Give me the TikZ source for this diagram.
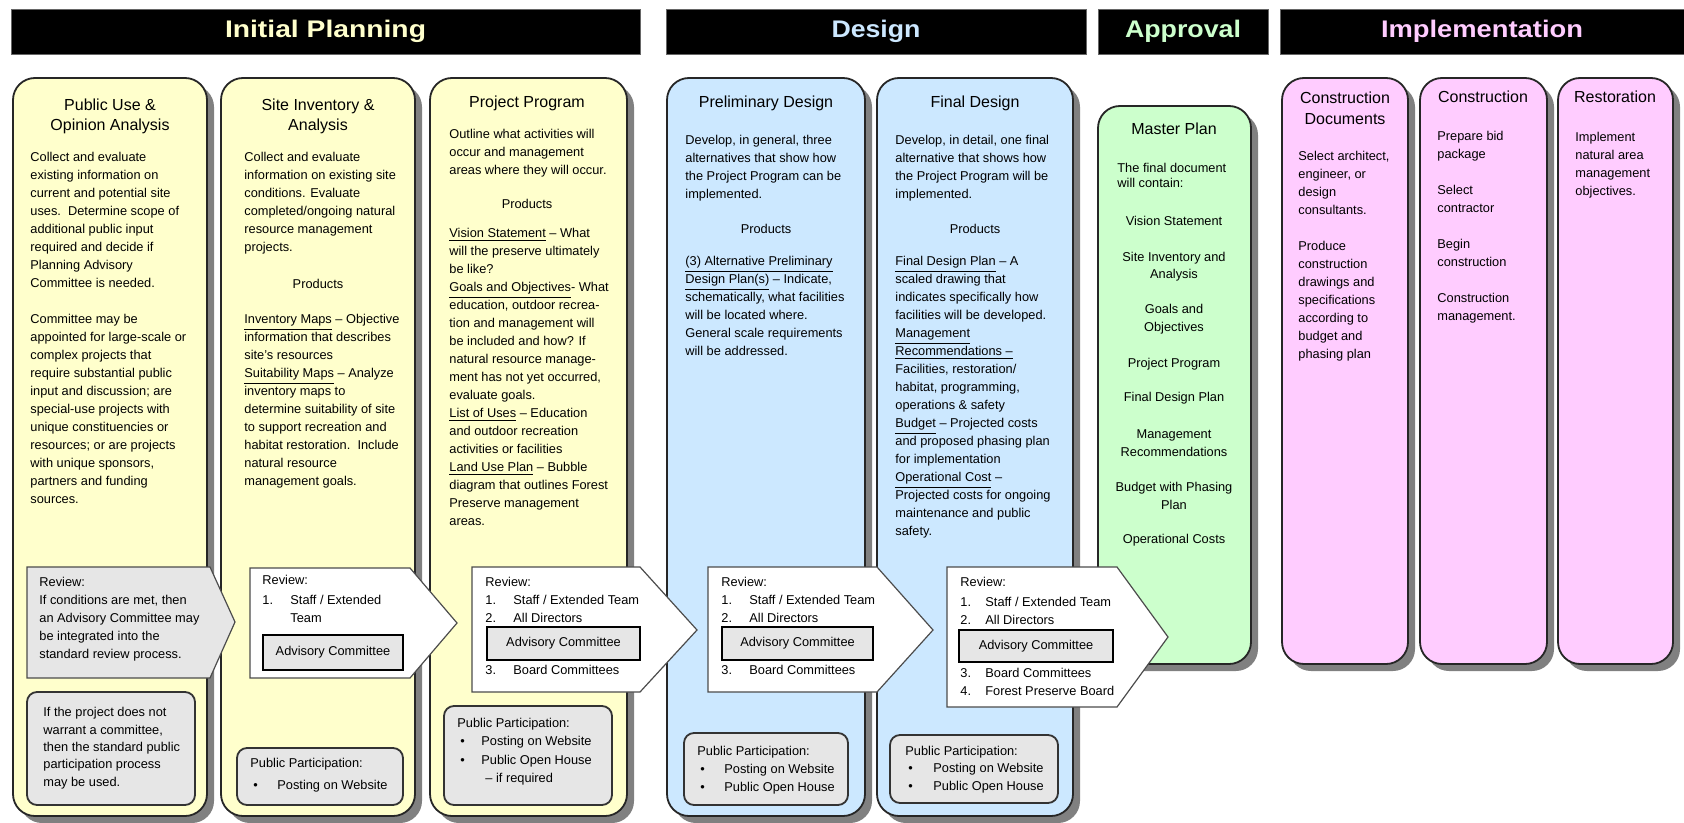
\documentclass[tikz,border=0pt]{standalone}
\usepackage{fontspec}
\usepackage{graphicx}
\setmainfont{Liberation Sans}
\definecolor{cyel}{HTML}{FFFFCC}
\definecolor{cblu}{HTML}{CCE8FF}
\definecolor{cgrn}{HTML}{CCFFCC}
\definecolor{cpnk}{HTML}{FFCCFF}
\definecolor{cshd}{HTML}{808080}
\definecolor{cbox}{HTML}{E6E6E6}
\newcommand{\bodyfs}{\fontsize{6.4}{9}\selectfont}
\newcommand{\titlefs}{\fontsize{8}{10.3}\selectfont}
\newcommand{\mycol}[5]{%
  \fill[cshd, rounded corners=11pt] (#1+7,#2+7) rectangle (#3+7,#4+7);
  \draw[colline, fill=#5] (#1,#2) rectangle (#3,#4);}
\newcommand{\revshape}[7]{%
  \draw[revline, fill=#7] (#1,#2) -- (#3,#2) -- (#4,#5) -- (#3,#6) -- (#1,#6) -- cycle;}
\tikzset{
  colline/.style={draw=black!85, line width=0.9pt, rounded corners=11pt},
  revline/.style={draw=black!70, line width=0.6pt},
  notebox/.style={draw=black!80, line width=0.9pt, fill=cbox, rounded corners=5pt},
  advbox/.style={draw=black, line width=1pt, fill=cbox, inner sep=0pt, font=\bodyfs},
  hdrbox/.style={fill=black, draw=black!60, line width=0.4pt, inner sep=0pt, minimum height=22.5pt},
  body/.style={anchor=north west, inner sep=0pt, align=left, font=\bodyfs},
  ln/.style={anchor=west, inner sep=0pt, text height=4.6pt, text depth=1.4pt, font=\bodyfs},
  ctr/.style={anchor=center, inner sep=0pt, align=center, font=\bodyfs},
  ttl/.style={anchor=center, inner sep=0pt, align=center, font=\titlefs},
}
\begin{document}
\begin{tikzpicture}[x=0.5pt,y=-0.5pt]
\useasboundingbox (0,0) rectangle (1684,823);
\fill[white] (0,0) rectangle (1684,823);
% headers
\node[hdrbox, minimum width=314.5pt] (hIP) at (325.5,31.5) {\color{cyel}\fontsize{12}{14}\selectfont\bfseries\resizebox{100.5pt}{\height}{Initial Planning}};
\node[hdrbox, minimum width=210pt] (hDe) at (876,31.5) {\color{cblu}\fontsize{12}{14}\selectfont\bfseries\resizebox{44.5pt}{\height}{Design}};
\node[hdrbox, minimum width=85pt] (hAp) at (1183,31.5) {\color{cgrn}\fontsize{12}{14}\selectfont\bfseries\resizebox{58pt}{\height}{Approval}};
\node[hdrbox, minimum width=202pt] (hIm) at (1482,31.5) {\color{cpnk}\fontsize{12}{14}\selectfont\bfseries\resizebox{101pt}{\height}{Implementation}};
% columns
\mycol{13}{78}{207}{816}{cyel}
\mycol{221}{78}{415}{816}{cyel}
\mycol{430}{78}{627}{816}{cyel}
\mycol{667}{78}{865}{816}{cblu}
\mycol{877}{78}{1073}{816}{cblu}
\mycol{1098}{106}{1251}{664}{cgrn}
\mycol{1282}{78}{1408}{664}{cpnk}
\mycol{1420}{78}{1547}{664}{cpnk}
\mycol{1558}{78}{1673}{664}{cpnk}
% column 1
\node[ttl] (c1t) at (110,116.5) {Public Use \&\\Opinion Analysis};
\node[body] (c1b) at (30,152) {Collect and evaluate\\existing information on\\current and potential site\\uses.\ \ Determine scope of\\additional public input\\required and decide if\\Planning Advisory\\Committee is needed.\\[9pt]Committee may be\\appointed for large-scale or\\complex projects that\\require substantial public\\input and discussion; are\\special-use projects with\\unique constituencies or\\resources; or are projects\\with unique sponsors,\\partners and funding\\sources.};
% column 2
\node[ttl] (c2t) at (318,116.5) {Site Inventory \&\\Analysis};
\node[body] (c2a) at (244,152) {Collect and evaluate\\information on existing site\\conditions. Evaluate\\completed/ongoing natural\\resource management\\projects.};
\node[ctr] (c2p) at (318,284) {Products};
\node[body] (c2b) at (244,314) {\underline{Inventory Maps} – Objective\\information that describes\\site's resources\\\underline{Suitability Maps} – Analyze\\inventory maps to\\determine suitability of site\\to support recreation and\\habitat restoration.\ \ Include\\natural resource\\management goals.};
% column 3
\node[ttl] (c3t) at (527,103) {Project Program};
\node[body] (c3a) at (449,129) {Outline what activities will\\occur and management\\areas where they will occur.};
\node[ctr] (c3p) at (527,204) {Products};
\node[body] (c3b) at (449,228) {\underline{Vision Statement} – What\\will the preserve ultimately\\be like?\\\underline{Goals and Objectives}- What\\education, outdoor recrea-\\tion and management will\\be included and how? If\\natural resource manage-\\ment has not yet occurred,\\evaluate goals.\\\underline{List of Uses} – Education\\and outdoor recreation\\activities or facilities\\\underline{Land Use Plan} – Bubble\\diagram that outlines Forest\\Preserve management\\areas.};
% column 4
\node[ttl] (c4t) at (766,103) {Preliminary Design};
\node[body] (c4a) at (685,135) {Develop, in general, three\\alternatives that show how\\the Project Program can be\\implemented.};
\node[ctr] (c4p) at (766,229) {Products};
\node[body] (c4b) at (685,256) {\underline{(3) Alternative Preliminary}\\\underline{Design Plan(s)} – Indicate,\\schematically, what facilities\\will be located where.\\General scale requirements\\will be addressed.};
% column 5
\node[ttl] (c5t) at (975,103) {Final Design};
\node[body] (c5a) at (895,135) {Develop, in detail, one final\\alternative that shows how\\the Project Program will be\\implemented.};
\node[ctr] (c5p) at (975,229) {Products};
\node[body] (c5b) at (895,256) {\underline{Final Design Plan} – A\\scaled drawing that\\indicates specifically how\\facilities will be developed.\\\underline{Management}\\\underline{Recommendations –}\\Facilities, restoration/\\habitat, programming,\\operations \& safety\\\underline{Budget} – Projected costs\\and proposed phasing plan\\for implementation\\\underline{Operational Cost} –\\Projected costs for ongoing\\maintenance and public\\safety.};
% master plan
\node[ttl] (mpt) at (1174,129) {Master Plan};
\node[body, font=\fontsize{6.4}{7.5}\selectfont] (mpa) at (1117,163) {The final document\\will contain:};
\node[ctr] (mp1) at (1174,221) {Vision Statement};
\node[ctr, font=\fontsize{6.4}{8.75}\selectfont] (mp2) at (1174,266.5) {Site Inventory and\\Analysis};
\node[ctr, font=\fontsize{6.4}{8.75}\selectfont] (mp3) at (1174,319) {Goals and\\Objectives};
\node[ctr] (mp4) at (1174,364) {Project Program};
\node[ctr] (mp5) at (1174,398) {Final Design Plan};
\node[ctr, font=\fontsize{6.4}{8.75}\selectfont] (mp6) at (1174,443) {Management\\Recommendations};
\node[ctr, font=\fontsize{6.4}{8.75}\selectfont] (mp7) at (1174,496) {Budget with Phasing\\Plan};
\node[ctr] (mp8) at (1174,540) {Operational Costs};
% implementation
\node[ttl] (cdt) at (1345,108) {Construction\\Documents};
\node[body] (cdb) at (1298,151) {Select architect,\\engineer, or\\design\\consultants.\\[9pt]Produce\\construction\\drawings and\\specifications\\according to\\budget and\\phasing plan};
\node[ttl] (cnt) at (1483,97) {Construction};
\node[body] (cnb) at (1437,131) {Prepare bid\\package\\[9pt]Select\\contractor\\[9pt]Begin\\construction\\[9pt]Construction\\management.};
\node[ttl] (rst) at (1615,97) {Restoration};
\node[body] (rsb) at (1575,132) {Implement\\natural area\\management\\objectives.};
% review 1
\revshape{27}{567}{210}{235}{622}{678}{cbox}
\node[body] (r1) at (39,577) {Review:\\If conditions are met, then\\an Advisory Committee may\\be integrated into the\\standard review process.};
\draw[notebox] (27,692) rectangle (195,805);
\node[body, font=\fontsize{6.4}{8.7}\selectfont] (n1) at (43,707) {If the project does not\\warrant a committee,\\then the standard public\\participation process\\may be used.};
% review 2
\revshape{250}{568}{410}{457}{623}{678}{white}
\node[ln] (r2h) at (262,581) {Review:};
\node[ln] (r2n1) at (262,601) {1.};
\node[ln] (r2i1) at (290,601) {Staff / Extended};
\node[ln] (r2i1b) at (290,619) {Team};
\node[advbox, minimum width=70pt, minimum height=17.5pt] (r2adv) at (333,652.5) {Advisory Committee};
\draw[notebox] (237,748) rectangle (403,805);
\node[ln] (p2h) at (250,764) {Public Participation:};
\node[ln] (p2b1) at (253,786) {•};
\node[ln] (p2i1) at (277,786) {Posting on Website};
% review 3
\revshape{472}{567}{640}{697}{630}{692}{white}
\node[ln] (r3h) at (485,583) {Review:};
\node[ln] (r3n1) at (485,601) {1.};
\node[ln] (r3i1) at (513,601) {Staff / Extended Team};
\node[ln] (r3n2) at (485,619) {2.};
\node[ln] (r3i2) at (513,619) {All Directors};
\node[advbox, minimum width=76.5pt, minimum height=16.5pt] (r3adv) at (563.5,643.5) {Advisory Committee};
\node[ln] (r3n3) at (485,671) {3.};
\node[ln] (r3i3) at (513,671) {Board Committees};
\draw[notebox] (444,706) rectangle (612,805);
\node[ln] (p3h) at (457,724) {Public Participation:};
\node[ln] (p3b1) at (460,742) {•};
\node[ln] (p3i1) at (481,742) {Posting on Website};
\node[ln] (p3b2) at (460,761) {•};
\node[ln] (p3i2) at (481,761) {Public Open House};
\node[ln] (p3i3) at (485,779) {– if required};
% review 4
\revshape{708}{567}{877}{933}{630}{692}{white}
\node[ln] (r4h) at (721,583) {Review:};
\node[ln] (r4n1) at (721,601) {1.};
\node[ln] (r4i1) at (749,601) {Staff / Extended Team};
\node[ln] (r4n2) at (721,619) {2.};
\node[ln] (r4i2) at (749,619) {All Directors};
\node[advbox, minimum width=75.5pt, minimum height=16.5pt] (r4adv) at (797.5,643.5) {Advisory Committee};
\node[ln] (r4n3) at (721,671) {3.};
\node[ln] (r4i3) at (749,671) {Board Committees};
\draw[notebox] (684,733) rectangle (848,805);
\node[ln] (p4h) at (697,752) {Public Participation:};
\node[ln] (p4b1) at (700,770) {•};
\node[ln] (p4i1) at (724,770) {Posting on Website};
\node[ln] (p4b2) at (700,788) {•};
\node[ln] (p4i2) at (724,788) {Public Open House};
% review 5
\revshape{947}{567}{1117}{1168}{637}{707}{white}
\node[ln] (r5h) at (960,583) {Review:};
\node[ln] (r5n1) at (960,603) {1.};
\node[ln] (r5i1) at (985,603) {Staff / Extended Team};
\node[ln] (r5n2) at (960,621) {2.};
\node[ln] (r5i2) at (985,621) {All Directors};
\node[advbox, minimum width=77pt, minimum height=16pt] (r5adv) at (1036,646) {Advisory Committee};
\node[ln] (r5n3) at (960,674) {3.};
\node[ln] (r5i3) at (985,674) {Board Committees};
\node[ln] (r5n4) at (960,692) {4.};
\node[ln] (r5i4) at (985,692) {Forest Preserve Board};
\draw[notebox] (890,735) rectangle (1058,803);
\node[ln] (p5h) at (905,752) {Public Participation:};
\node[ln] (p5b1) at (908,769) {•};
\node[ln] (p5i1) at (933,769) {Posting on Website};
\node[ln] (p5b2) at (908,787) {•};
\node[ln] (p5i2) at (933,787) {Public Open House};
\end{tikzpicture}
\end{document}
